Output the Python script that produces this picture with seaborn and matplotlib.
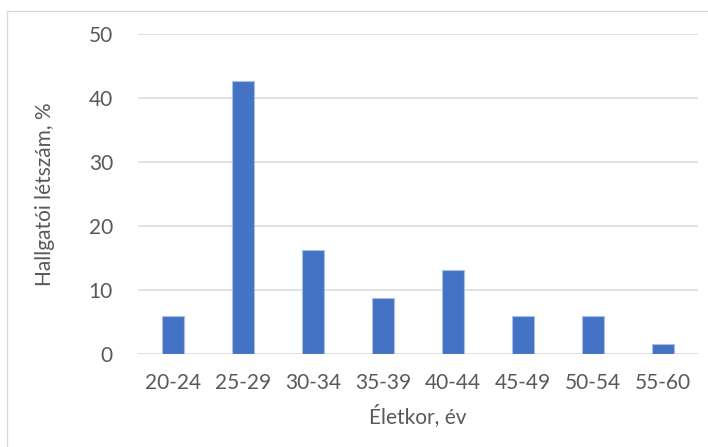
import matplotlib
matplotlib.use("Agg")
import matplotlib.pyplot as plt
from matplotlib.lines import Line2D
import seaborn as sns
import pandas as pd

# Age groups and share of students (%)
age_groups = ["20-24", "25-29", "30-34", "35-39", "40-44", "45-49", "50-54", "55-60"]
share_pct = [5.9, 42.6, 16.2, 8.8, 13.2, 5.9, 5.9, 1.5]
y_ticks = [0, 10, 20, 30, 40, 50]

df = pd.DataFrame({"age": age_groups, "share": share_pct})

sns.set_style("white")
plt.rcParams["font.family"] = ["Lato", "DejaVu Sans"]

text_col = "#595959"
fs = 15
fig = plt.figure(figsize=(7.08, 4.47), dpi=100)
ax = fig.add_axes([0.1949, 0.2081, 0.7910, 0.7158])

sns.barplot(data=df, x="age", y="share", color="#4472C4", width=0.314,
            edgecolor="#A9BFE6", linewidth=0.8, saturation=1, ax=ax, zorder=3)

ax.set_ylim(0, 50)
ax.set_xlim(-0.5, len(age_groups) - 0.5)
ax.set_yticks(y_ticks)
ax.yaxis.grid(True, color="#D9D9D9", linewidth=1.1, zorder=0)
ax.set_axisbelow(True)
for s in ax.spines.values():
    s.set_visible(False)

ax.tick_params(axis="y", length=0, pad=18, labelsize=fs, labelcolor=text_col)
ax.tick_params(axis="x", length=0, pad=14, labelsize=fs, labelcolor=text_col)

ax.set_xlabel("Életkor, év", fontsize=fs, color=text_col, labelpad=8)
ax.set_ylabel("Hallgatói létszám, %", fontsize=fs, color=text_col, labelpad=24)

# Thin chart-area frame along the top and left edges
W, H = 708, 447
fig.add_artist(Line2D([7 / W, 1.0], [1 - 11 / H, 1 - 11 / H], color="#D9D9D9", lw=1.0))
fig.add_artist(Line2D([7 / W, 7 / W], [0.0, 1 - 11 / H], color="#D9D9D9", lw=1.0))

fig.savefig("out.png", dpi=100)
